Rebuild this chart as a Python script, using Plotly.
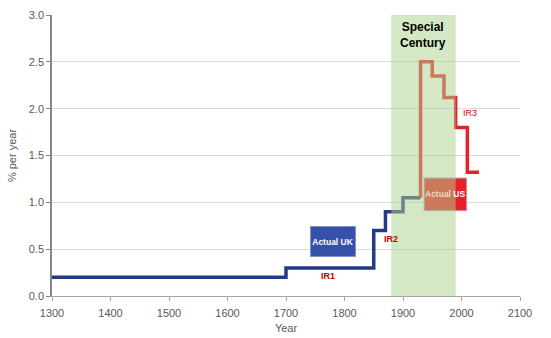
import plotly.graph_objects as go

# UK (historical) growth-rate step series
uk_years = [1300, 1700, 1850, 1870, 1900, 1930]
uk_rate = [0.2, 0.3, 0.7, 0.9, 1.05, 1.05]

# US (frontier) growth-rate step series
us_years = [1930, 1930, 1950, 1970, 1990, 2010, 2030]
us_rate = [1.05, 2.5, 2.35, 2.12, 1.8, 1.32, 1.32]

special_start, special_end = 1880, 1990
x_ticks = [1300, 1400, 1500, 1600, 1700, 1800, 1900, 2000, 2100]
y_ticks = [0.0, 0.5, 1.0, 1.5, 2.0, 2.5, 3.0]

FONT = "Liberation Sans"

fig = go.Figure()
fig.add_trace(go.Scatter(x=uk_years, y=uk_rate, mode="lines", line_shape="hv",
                         line=dict(color="#243A85", width=3.5), showlegend=False))
fig.add_trace(go.Scatter(x=us_years, y=us_rate, mode="lines", line_shape="hv",
                         line=dict(color="#E4222C", width=3.5), showlegend=False))

# Actual US box (under the translucent band)
fig.add_shape(type="rect", xref="x", yref="y", x0=1936, x1=2009, y0=0.91, y1=1.26,
              fillcolor="#E8202A", line=dict(color="#B0B0C8", width=1), layer="above")
# Special century band
fig.add_shape(type="rect", xref="x", yref="y", x0=special_start, x1=special_end, y0=0, y1=3.0,
              fillcolor="rgb(171,209,139)", opacity=0.5, line=dict(width=0), layer="above")

fig.add_annotation(x=(1936 + 2009) / 2, y=1.085, xref="x", yref="y", showarrow=False,
                   text="<b><span style='color:#EAD9C6'>Actual </span>US</b>",
                   font=dict(family=FONT, size=8.5, color="white"))

fig.add_annotation(x=1781, y=0.58, xref="x", yref="y", showarrow=False,
                   text="<b>Actual UK</b>", font=dict(family=FONT, size=8.5, color="white"),
                   bgcolor="#3552A8", bordercolor="#8090C8", borderwidth=1,
                   width=42, height=27, borderpad=1)

fig.add_annotation(x=1935, y=2.79, xref="x", yref="y", showarrow=False,
                   text="<b>Special<br>Century</b>",
                   font=dict(family=FONT, size=12, color="black"))

fig.add_annotation(x=1771, y=0.21, xref="x", yref="y", showarrow=False,
                   text="<b>IR1</b>", font=dict(family=FONT, size=9, color="#C00000"))
fig.add_annotation(x=1879, y=0.61, xref="x", yref="y", showarrow=False,
                   text="<b>IR2</b>", font=dict(family=FONT, size=9, color="#C00000"))
fig.add_annotation(x=2014, y=1.95, xref="x", yref="y", showarrow=False,
                   text="IR3", font=dict(family=FONT, size=9, color="#E00000"))

fig.update_layout(
    width=551, height=338,
    margin=dict(l=52, r=31, t=15, b=42),
    plot_bgcolor="white", paper_bgcolor="white",
    font=dict(family=FONT, size=11, color="#595959"),
    showlegend=False,
)
fig.update_xaxes(range=[1300, 2100], tickvals=x_ticks, ticktext=[str(v) for v in x_ticks],
                 showgrid=False, zeroline=False, showline=True, linecolor="#A6A6A6",
                 linewidth=1, ticks="outside", ticklen=4, tickcolor="#A6A6A6",
                 ticklabelstandoff=3, automargin=False,
                 title=dict(text="Year", font=dict(size=11, color="#595959"), standoff=6),
                 tickfont=dict(size=11, color="#595959"))
fig.update_yaxes(range=[0, 3.0], tickvals=y_ticks, ticktext=[f"{v:.1f}" for v in y_ticks],
                 showgrid=True, gridcolor="#D9D9D9", gridwidth=1, zeroline=False,
                 showline=True, linecolor="#868686", linewidth=1.5,
                 ticks="outside", ticklen=4, tickcolor="#868686", automargin=False,
                 title=dict(text="% per year", font=dict(size=11, color="#595959"), standoff=10),
                 tickfont=dict(size=11, color="#595959"))

fig.write_html("out.html")
